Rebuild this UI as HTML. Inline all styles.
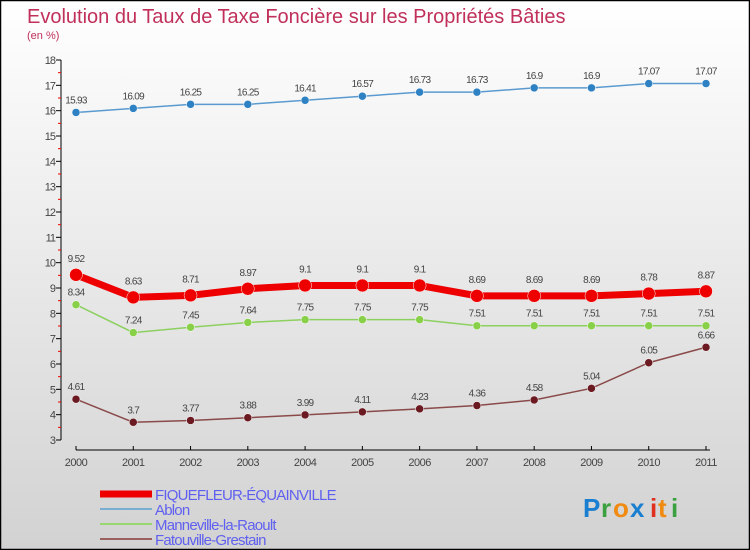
<!DOCTYPE html>
<html><head><meta charset="utf-8"><style>
body{margin:0;}
#c{width:750px;height:550px;position:relative;overflow:hidden;}
svg text{font-family:"Liberation Sans",sans-serif;}
</style></head><body>
<div id="c">
<svg id="s" width="750" height="550" xmlns="http://www.w3.org/2000/svg">
<defs><linearGradient id="bg" x1="0" y1="0" x2="0" y2="1"><stop offset="0" stop-color="#ffffff"/><stop offset="1" stop-color="#d2d2d2"/></linearGradient></defs>
<rect x="0" y="0" width="750" height="550" fill="url(#bg)"/>
<rect x="0.5" y="0.5" width="749" height="549" fill="none" stroke="#000" stroke-width="1.5"/>
<text x="27" y="23" font-size="20" fill="#c0305a">Evolution du Taux de Taxe Foncière sur les Propriétés Bâties</text>
<text x="27" y="39" font-size="11" fill="#c0305a">(en %)</text>
<g id="axes"></g>
<g id="series"></g>
<g id="legend"></g>
<g font-size="26" font-weight="bold">
<text x="583" y="517" fill="#1a7fd0">P</text><text x="601" y="517" fill="#3aa040">r</text><text x="613" y="517" fill="#f08a10">o</text><text x="630" y="517" fill="#1a7fd0">x</text><text x="650" y="517" fill="#e03020">i</text><text x="658" y="517" fill="#f08a10">t</text><text x="671" y="517" fill="#3aa040">i</text>
</g>
</svg></div>
<script>
const years=["2000","2001","2002","2003","2004","2005","2006","2007","2008","2009","2010","2011"];
const yTicks=[3,4,5,6,7,8,9,10,11,12,13,14,15,16,17,18];
const fiquefleur=[9.52,8.63,8.71,8.97,9.1,9.1,9.1,8.69,8.69,8.69,8.78,8.87];
const ablon=[15.93,16.09,16.25,16.25,16.41,16.57,16.73,16.73,16.9,16.9,17.07,17.07];
const manneville=[8.34,7.24,7.45,7.64,7.75,7.75,7.75,7.51,7.51,7.51,7.51,7.51];
const fatouville=[4.61,3.7,3.77,3.88,3.99,4.11,4.23,4.36,4.58,5.04,6.05,6.66];
const names=["FIQUEFLEUR-ÉQUAINVILLE","Ablon","Manneville-la-Raoult","Fatouville-Grestain"];
const NS="http://www.w3.org/2000/svg";
const X=i=>76+i*(706-76)/(years.length-1);
const Y=v=>60+(18-v)*(440-60)/15;
function mk(t,a,p){const e=document.createElementNS(NS,t);for(const k in a)e.setAttribute(k,a[k]);p.appendChild(e);return e;}
const ax=document.getElementById('axes');
let l=mk('line',{x1:61,y1:60,x2:61,y2:440,stroke:'#000'},ax);


yTicks.forEach(v=>{
 mk('line',{x1:56,y1:Y(v),x2:61,y2:Y(v),stroke:'#000'},ax);
 if(v<18)mk('line',{x1:58,y1:Y(v+0.5),x2:61,y2:Y(v+0.5),stroke:'#e00'},ax);
 const t=mk('text',{x:55,y:Y(v)+4,'font-size':11,'text-anchor':'end',fill:'#444','letter-spacing':'-1'},ax);t.textContent=v;
 
 
});
l=mk('line',{x1:76,y1:450,x2:710,y2:450,stroke:'#000'},ax);


years.forEach((y,i)=>{
 mk('line',{x1:X(i),y1:446,x2:X(i),y2:450,stroke:'#000'},ax);
 const t=mk('text',{x:X(i),y:466,'font-size':11,'text-anchor':'middle',fill:'#444','letter-spacing':'-0.5'},ax);t.textContent=y;
 
 
});
const sg=document.getElementById('series');
function series(d,name,col,dot,w,r,lblOff){
 const g=mk('g',{},sg);
 
 
 mk('polyline',{points:d.map((v,i)=>X(i)+','+Y(v)).join(' '),fill:'none',stroke:col,'stroke-width':w},g);
 d.forEach((v,i)=>{
  const c=mk('circle',{cx:X(i),cy:Y(v),r:r,fill:dot,stroke:'#fff','stroke-width':0.5},g);
  
  
  const t=mk('text',{x:X(i),y:Y(v)+lblOff,'font-size':10,'text-anchor':'middle',fill:'#444','letter-spacing':'-0.7'},g);t.textContent=v;
  
  
 });
}
series(ablon,'ablon','#5a9ad0','#2e82c4',1.5,4,-9);
series(manneville,'manneville','#8cd060','#88d048',1.5,4,-9);
series(fatouville,'fatouville','#8a4a4a','#6a1a20',1.5,4,-9);
series(fiquefleur,'fiquefleur','#ee0000','#ee0000',7,6.5,-13);
const lg=document.getElementById('legend');
const lc=[['#ee0000',7],['#7aaed0',2],['#98d870',2],['#9a6060',2]];
names.forEach((n,i)=>{
 const y=494+i*15;
 const g=mk('g',{},lg);
 
 
 mk('line',{x1:100,y1:y,x2:152,y2:y,stroke:lc[i][0],'stroke-width':lc[i][1]},g);
 const t=mk('text',{x:155,y:y+6,'font-size':15,fill:'#6060f0','letter-spacing':'-0.8'},g);t.textContent=n;
});
</script>
</body></html>
